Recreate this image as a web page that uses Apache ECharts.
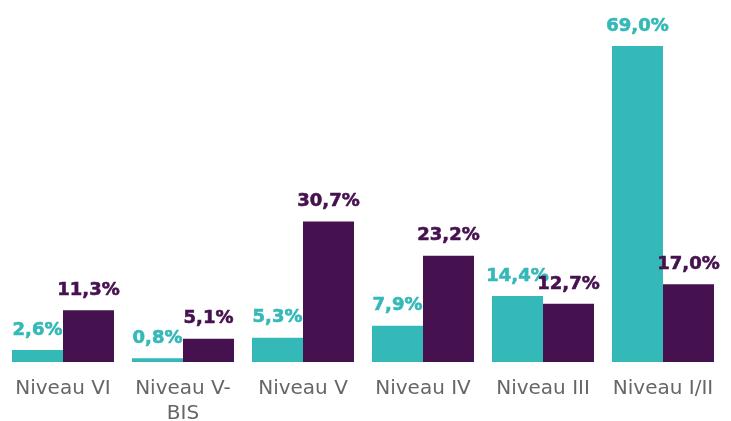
<!DOCTYPE html>
<html>
<head>
<meta charset="utf-8">
<script src="https://cdn.jsdelivr.net/npm/echarts@6/dist/echarts.min.js"></script>
<style>
  html, body { margin: 0; padding: 0; background: #fff; }
  #chart { width: 731px; height: 421px; }
</style>
</head>
<body>
<div id="chart"></div>
<script>
var categories = ['Niveau VI', 'Niveau V-\nBIS', 'Niveau V', 'Niveau IV', 'Niveau III', 'Niveau I/II'];
var serieTurquoise = [2.6, 0.8, 5.3, 7.9, 14.4, 69.0];
var serieViolet = [11.3, 5.1, 30.7, 23.2, 12.7, 17.0];

var myChart = echarts.init(document.getElementById('chart'));

// libellé en pourcentage avec virgule
function pct(p) {
    return p.value.toFixed(1).replace('.', ',') + '%';
}

function labelStyle(couleur) {
    return {
        show: true,
        position: 'top',
        distance: 11,
        formatter: pct,
        color: couleur,
        textBorderColor: couleur,
        textBorderWidth: 0.6,
        fontSize: 18,
        fontWeight: 'bold',
        fontFamily: 'DejaVu Sans'
    };
}

var option = {
    animation: false,
    grid: {
        left: 3,
        right: 8,
        top: 46,
        bottom: 59,
        outerBoundsMode: 'none',
        containLabel: false
    },
    xAxis: {
        type: 'category',
        data: categories,
        axisLine: { show: false },
        axisTick: { show: false },
        axisLabel: {
            color: '#666666',
            fontSize: 20,
            fontFamily: 'DejaVu Sans',
            margin: 14,
            lineHeight: 25,
            interval: 0
        }
    },
    yAxis: {
        type: 'value',
        min: 0,
        max: 69,
        show: false
    },
    series: [
        {
            type: 'bar',
            data: serieTurquoise,
            barGap: '0%',
            barCategoryGap: '15%',
            itemStyle: { color: '#35b8b8' },
            label: labelStyle('#35b8b8')
        },
        {
            type: 'bar',
            data: serieViolet,
            itemStyle: { color: '#46114f' },
            label: labelStyle('#46114f')
        }
    ]
};
myChart.setOption(option);
</script>
</body>
</html>
